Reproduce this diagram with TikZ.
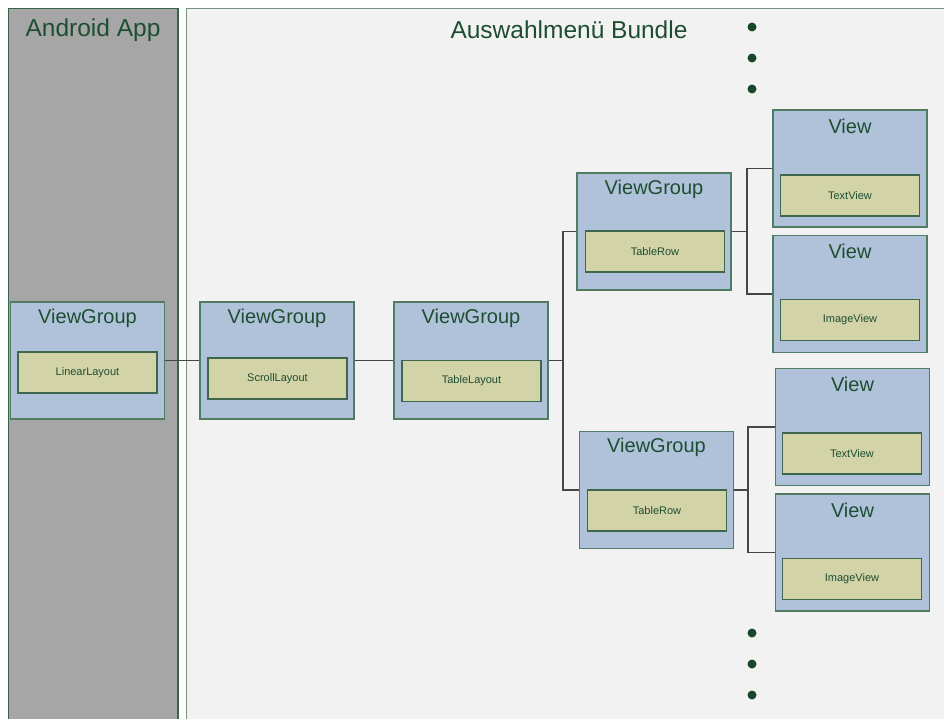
\documentclass[tikz,border=0pt]{standalone}
\usepackage{fontspec}
\setmainfont{Liberation Sans}
\definecolor{panelgray}{RGB}{166,166,166}
\definecolor{panellight}{RGB}{242,242,242}
\definecolor{panelline}{RGB}{55,100,72}
\definecolor{grouplue}{RGB}{175,194,218}
\definecolor{groupline}{RGB}{80,124,100}
\definecolor{innerfill}{RGB}{211,211,168}
\definecolor{innerline}{RGB}{62,102,76}
\definecolor{txtgreen}{RGB}{30,78,50}
\definecolor{dotgreen}{RGB}{24,72,40}
\definecolor{connline}{RGB}{70,70,70}
\tikzset{
  outerbox/.style={draw=groupline, fill=grouplue, line width=1.4pt, inner sep=0pt,
    minimum width=154pt, minimum height=117pt},
  innerbox/.style={draw=innerline, fill=innerfill, line width=1.4pt, inner sep=0pt,
    minimum width=139pt, minimum height=41pt, text=txtgreen,
    font=\fontsize{11}{13}\selectfont},
  boxtitle/.style={text=txtgreen, inner sep=0pt, font=\fontsize{20}{24}\selectfont},
  paneltitle/.style={text=txtgreen, inner sep=0pt, font=\fontsize{24.5}{28}\selectfont},
  conn/.style={draw=connline, line width=1.3pt},
  gdot/.style={circle, fill=dotgreen, inner sep=0pt, minimum size=9pt},
}
\begin{document}
\begin{tikzpicture}[x=1pt, y=-1pt]
\useasboundingbox (0,0) rectangle (944,718);
\fill[white] (0,0) rectangle (944,718);
\begin{scope}
\clip (0,0) rectangle (944,718);
% panels
\draw[panelline, fill=panelgray, line width=1.3pt] (8.5,8.5) rectangle (178,730);
\draw[panelline!70, fill=panellight, line width=1.3pt] (186.5,8.5) rectangle (960,730);
\end{scope}
\node[paneltitle] (tapp) at (93,30) {Android App};
\node[paneltitle] (tbundle) at (569,30) {Auswahlmenü Bundle};

% ViewGroup: LinearLayout
\node[outerbox] (g1) at (87.5,360.5) {};
\node[boxtitle] at ([yshift=-17pt]g1.north) {ViewGroup};
\node[innerbox] (i1) at (87.5,372.5) {LinearLayout};
% ViewGroup: ScrollLayout
\node[outerbox] (g2) at (277,360.5) {};
\node[boxtitle] at ([yshift=-17pt]g2.north) {ViewGroup};
\node[innerbox] (i2) at (277.5,378.5) {ScrollLayout};
% ViewGroup: TableLayout
\node[outerbox] (g3) at (471,360.5) {};
\node[boxtitle] at ([yshift=-17pt]g3.north) {ViewGroup};
\node[innerbox] (i3) at (471.5,381) {TableLayout};
% upper TableRow
\node[outerbox] (r1) at (654,231.5) {};
\node[boxtitle] at ([yshift=-17pt]r1.north) {ViewGroup};
\node[innerbox] (i4) at (655,251.5) {TableRow};
% lower TableRow
\node[outerbox] (r2) at (656.5,490) {};
\node[boxtitle] at ([yshift=-17pt]r2.north) {ViewGroup};
\node[innerbox] (i5) at (657,510.5) {TableRow};
% upper views
\node[outerbox] (v1) at (850,168.5) {};
\node[boxtitle] at ([yshift=-17pt]v1.north) {View};
\node[innerbox] (i6) at (850,195.5) {TextView};
\node[outerbox] (v2) at (850,294) {};
\node[boxtitle] at ([yshift=-17pt]v2.north) {View};
\node[innerbox] (i7) at (850,320) {ImageView};
% lower views
\node[outerbox] (v3) at (852.5,427) {};
\node[boxtitle] at ([yshift=-17pt]v3.north) {View};
\node[innerbox] (i8) at (852,453.5) {TextView};
\node[outerbox] (v4) at (852.5,552.5) {};
\node[boxtitle] at ([yshift=-17pt]v4.north) {View};
\node[innerbox] (i9) at (852,579) {ImageView};

% connectors
\coordinate (b1) at (563,360.5);
\coordinate (b2) at (747,231.5);
\coordinate (b3) at (748,490);
\draw[conn] (g1.east) -- (g2.west);
\draw[conn] (g2.east) -- (g3.west);
\draw[conn] (g3.east) -- (b1);
\draw[conn] (b1) |- (r1.west);
\draw[conn] (b1) |- (r2.west);
\draw[conn] (r1.east) -- (b2);
\draw[conn] (b2) |- (v1.west);
\draw[conn] (b2) |- (v2.west);
\draw[conn] (r2.east) -- (b3);
\draw[conn] (b3) |- (v3.west);
\draw[conn] (b3) |- (v4.west);

% continuation dots
\node[gdot] (d1) at (752,27) {};
\node[gdot] (d2) at (752,58) {};
\node[gdot] (d3) at (752,89) {};
\node[gdot] (d4) at (752,633) {};
\node[gdot] (d5) at (752,664) {};
\node[gdot] (d6) at (752,695) {};
\end{tikzpicture}
\end{document}
